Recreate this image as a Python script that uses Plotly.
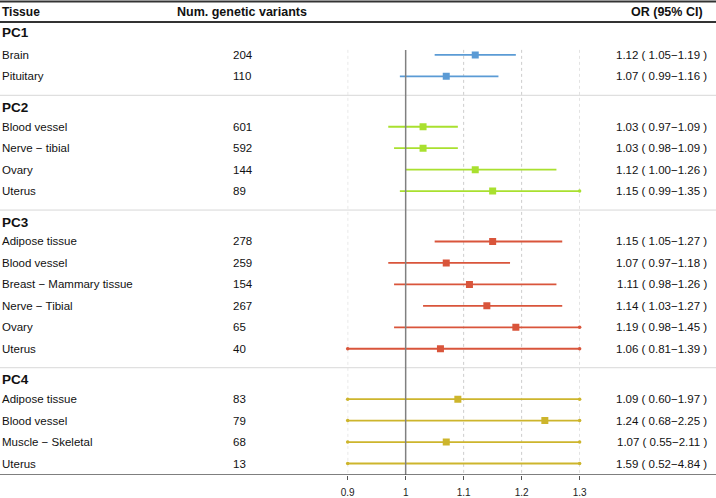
import plotly.graph_objects as go

# ---------------- data ----------------
groups = ["PC1", "PC2", "PC3", "PC4"]
group_colors = ["#5b9bd5", "#a9e02f", "#d9553b", "#cdb52c"]

row_group = ["PC1", "PC1",
             "PC2", "PC2", "PC2", "PC2",
             "PC3", "PC3", "PC3", "PC3", "PC3", "PC3",
             "PC4", "PC4", "PC4", "PC4"]
tissues = ["Brain", "Pituitary",
           "Blood vessel", "Nerve \u2212 tibial", "Ovary", "Uterus",
           "Adipose tissue", "Blood vessel", "Breast \u2212 Mammary tissue",
           "Nerve \u2212 Tibial", "Ovary", "Uterus",
           "Adipose tissue", "Blood vessel", "Muscle \u2212 Skeletal", "Uterus"]
n_variants = [204, 110, 601, 592, 144, 89, 278, 259, 154, 267, 65, 40, 83, 79, 68, 13]
or_est = [1.12, 1.07, 1.03, 1.03, 1.12, 1.15, 1.15, 1.07, 1.11, 1.14, 1.19, 1.06,
          1.09, 1.24, 1.07, 1.59]
ci_lo = [1.05, 0.99, 0.97, 0.98, 1.00, 0.99, 1.05, 0.97, 0.98, 1.03, 0.98, 0.81,
         0.60, 0.68, 0.55, 0.52]
ci_hi = [1.19, 1.16, 1.09, 1.09, 1.26, 1.35, 1.27, 1.18, 1.26, 1.27, 1.45, 1.39,
         1.97, 2.25, 2.11, 4.84]

x_ticks = [0.9, 1.0, 1.1, 1.2, 1.3]
x_ticktext = ["0.9", "1", "1.1", "1.2", "1.3"]
x_range = [0.9, 1.3]

# ---------------- layout geometry ----------------
W, H = 716, 498
BOTTOM = 22
PLOT_H = H - BOTTOM  # 476
FONT = "Liberation Sans, Arial, sans-serif"
# plotly keeps the paper area at x in [8, 708] px here
PX0, PXW = 8.0, 700.0
def px(x):
    return (x - PX0) / PXW

STEP = 21.5
y_header_pos = {}
row_y = []
sep_y = []
cur = 33.0
for gi, g in enumerate(groups):
    if gi > 0:
        sep = row_y[-1] + 19.0
        sep_y.append(sep)
        cur = sep + 12.0
    y_header_pos[g] = cur
    first = cur + (22.0 if gi == 0 else 19.5)
    idx = [i for i, rg in enumerate(row_group) if rg == g]
    for k, i in enumerate(idx):
        row_y.append(first + k * STEP)

fig = go.Figure()
color_of = dict(zip(groups, group_colors))

# CI lines (clipped by the subplot area)
for i in range(len(tissues)):
    c = color_of[row_group[i]]
    fig.add_trace(go.Scatter(
        x=[ci_lo[i], ci_hi[i]], y=[row_y[i], row_y[i]],
        mode="lines", line=dict(color=c, width=1.8),
        xaxis="x2", yaxis="y", hoverinfo="skip", showlegend=False))

# small end marks where an interval runs past the axis range
for i in range(len(tissues)):
    ends = []
    if ci_lo[i] < x_range[0]:
        ends.append(x_range[0])
    if ci_hi[i] > x_range[1]:
        ends.append(x_range[1])
    if ends:
        fig.add_trace(go.Scatter(
            x=ends, y=[row_y[i]] * len(ends), mode="markers",
            marker=dict(symbol="circle", size=3.5, color=color_of[row_group[i]]),
            xaxis="x2", yaxis="y", cliponaxis=False, hoverinfo="skip", showlegend=False))

# point estimates
for g in groups:
    idx = [i for i, rg in enumerate(row_group) if rg == g]
    fig.add_trace(go.Scatter(
        x=[or_est[i] for i in idx], y=[row_y[i] for i in idx],
        mode="markers",
        marker=dict(symbol="square", size=7, color=color_of[g]),
        xaxis="x2", yaxis="y", showlegend=False))

FULL0, FULL1 = px(0), px(W)
shapes = []
shapes.append(dict(type="line", xref="paper", yref="y", x0=FULL0, x1=FULL1, y0=1.5, y1=1.5,
                   line=dict(color="#333333", width=2)))
shapes.append(dict(type="line", xref="paper", yref="y", x0=FULL0, x1=FULL1, y0=22, y1=22,
                   line=dict(color="#333333", width=2)))
for s in sep_y:
    shapes.append(dict(type="line", xref="paper", yref="y", x0=FULL0, x1=FULL1, y0=s, y1=s,
                       line=dict(color="#d8d8d8", width=1)))
for t in x_ticks:
    if t == 1.0:
        continue
    shapes.append(dict(type="line", xref="x2", yref="y", x0=t, x1=t, y0=50, y1=PLOT_H,
                       line=dict(color="#cccccc", width=1, dash="dot"), layer="below"))
shapes.append(dict(type="line", xref="x2", yref="y", x0=1, x1=1, y0=50, y1=PLOT_H,
                   line=dict(color="#808080", width=1.5)))
shapes.append(dict(type="line", xref="paper", yref="y", x0=FULL0, x1=FULL1,
                   y0=PLOT_H, y1=PLOT_H, line=dict(color="#555555", width=1.5)))

ann = []
def txt(x, y, s, anchor="left", size=11.5, bold=False):
    ann.append(dict(x=px(x), y=y, xref="paper", yref="y",
                    text=("<b>%s</b>" % s) if bold else s,
                    showarrow=False, xanchor=anchor, yanchor="middle",
                    font=dict(family=FONT, size=size, color="#111111")))

txt(1.5, 12, "Tissue", bold=True, size=12)
txt(242, 12, "Num. genetic variants", anchor="center", bold=True, size=12.5)
txt(704, 12, "OR (95% CI)", anchor="right", bold=True, size=12.5)

for g in groups:
    txt(1, y_header_pos[g], g, bold=True, size=13.5)

for i in range(len(tissues)):
    txt(1, row_y[i], tissues[i])
    txt(231.5, row_y[i], str(n_variants[i]))
    s = "%.2f ( %.2f\u2212%.2f )" % (or_est[i], ci_lo[i], ci_hi[i])
    txt(708, row_y[i], s, anchor="right")

x2_dom = [px(347.7), px(579.0)]

fig.update_layout(
    width=W, height=H,
    margin=dict(l=0, r=0, t=0, b=BOTTOM),
    paper_bgcolor="white", plot_bgcolor="rgba(0,0,0,0)",
    shapes=shapes, annotations=ann, showlegend=False,
    xaxis=dict(domain=[0, 1], range=[0, 1], visible=False, fixedrange=True),
    xaxis2=dict(domain=x2_dom, range=x_range, anchor="y", overlaying="x",
                tickvals=x_ticks, ticktext=x_ticktext, ticks="outside", ticklen=4,
                tickcolor="#555555", tickwidth=1, showline=False, showgrid=False,
                zeroline=False, tickfont=dict(family=FONT, size=10, color="#222222"),
                ticklabelstandoff=4, fixedrange=True),
    yaxis=dict(range=[PLOT_H, 0], visible=False, fixedrange=True, showgrid=False,
               zeroline=False),
)

fig.write_html(
    "out.html",
    config={"displayModeBar": False, "responsive": False},
    post_script=("document.documentElement.style.margin='0';"
                 "document.documentElement.style.overflow='hidden';"
                 "document.body.style.margin='0';document.body.style.padding='0';"
                 "document.body.style.overflow='hidden';"),
)
